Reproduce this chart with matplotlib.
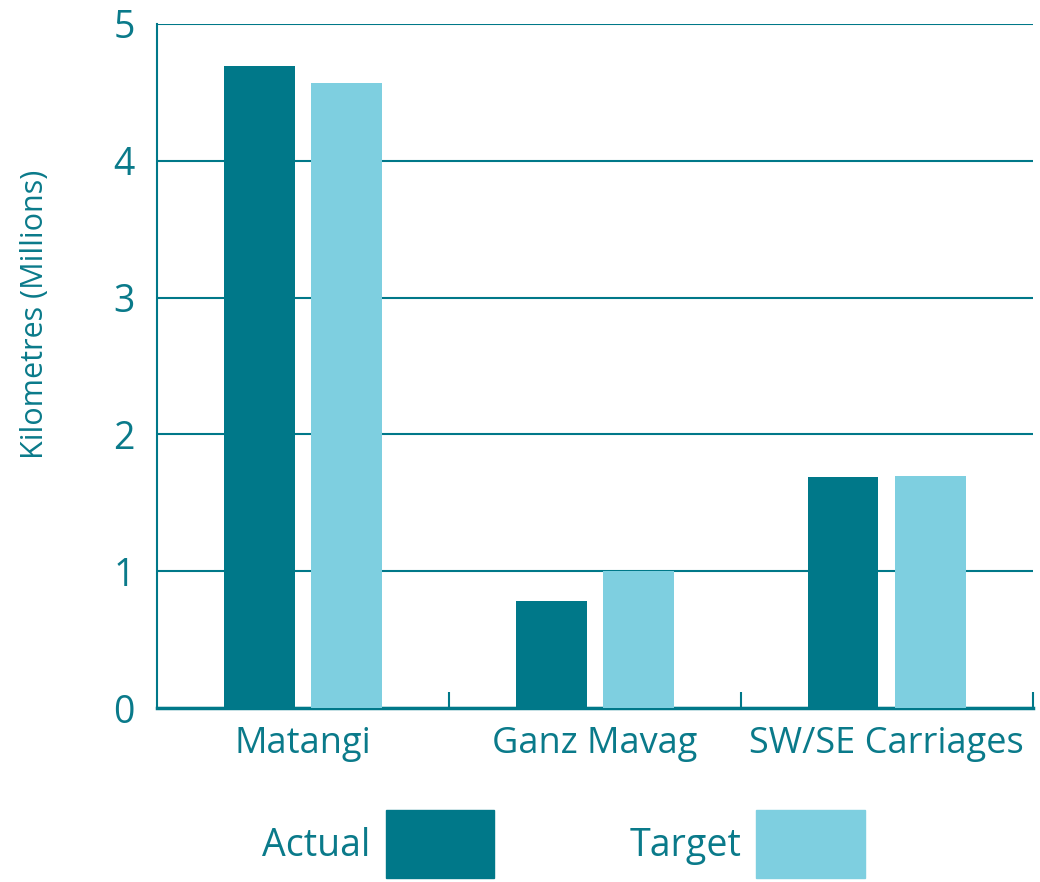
import matplotlib.pyplot as plt
import numpy as np
from matplotlib.patches import Patch

categories = ["Matangi", "Ganz Mavag", "SW/SE Carriages"]
actual = [4.69, 0.78, 1.69]
target = [4.57, 1.00, 1.70]
yticks = [0, 1, 2, 3, 4, 5]

DARK = "#007889"
LIGHT = "#7ecfe0"
TEXT = "#0a7a8a"

plt.rcParams['font.family'] = ['Open Sans', 'DejaVu Sans']

fig = plt.figure(figsize=(10.4, 8.82), dpi=100)
ax = fig.add_axes([0.151, 0.197, 0.842, 0.776])

x = np.arange(len(categories))
w = 0.243
ax.bar(x - 0.15, actual, w, color=DARK, label="Actual", zorder=3)
ax.bar(x + 0.15, target, w, color=LIGHT, label="Target", zorder=3)

ax.set_xlim(-0.5, 2.5)
ax.set_ylim(0, 5)
ax.set_yticks(yticks)
ax.set_yticklabels([str(t) for t in yticks])
ax.yaxis.grid(True, color=DARK, linewidth=1.5, zorder=0)
ax.set_axisbelow(True)

# category boundaries as inward ticks, labels on minor ticks
ax.set_xticks([0.5, 1.5, 2.5])
ax.set_xticklabels([])
ax.tick_params(axis='x', which='major', direction='in', length=11.5, width=1.5, color=DARK)
ax.set_xticks(x, minor=True)
ax.set_xticklabels(categories, minor=True)
ax.tick_params(axis='x', which='minor', length=0, pad=13, labelsize=26, labelcolor=TEXT)
ax.tick_params(axis='y', length=0, pad=16, labelsize=27, labelcolor=TEXT)

for s in ["top", "right"]:
    ax.spines[s].set_visible(False)
ax.spines["left"].set_color(DARK)
ax.spines["left"].set_linewidth(1.5)
ax.spines["bottom"].set_color(DARK)
ax.spines["bottom"].set_linewidth(2.5)

ax.set_ylabel("Kilometres (Millions)", fontsize=22, color=TEXT)
ax.yaxis.set_label_coords(-0.122, 0.575)

leg = fig.legend(handles=[Patch(color=DARK, label="Actual"), Patch(color=LIGHT, label="Target")],
                 loc="center", bbox_to_anchor=(0.542, 0.043), ncol=2, frameon=False,
                 markerfirst=False, fontsize=27, handlelength=2.9, handleheight=2.4,
                 handletextpad=0.4, columnspacing=3.6, labelcolor=TEXT)

fig.savefig("out.png", dpi=100)
